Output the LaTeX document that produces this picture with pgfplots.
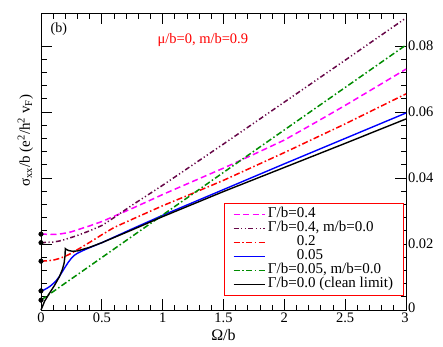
\documentclass[border=0pt]{standalone}
\usepackage{fontspec}
\setmainfont{Liberation Serif}
\usepackage{pgfplots}
\pgfplotsset{compat=1.18}
\definecolor{cmag}{RGB}{255,0,255}
\definecolor{cpur}{RGB}{103,7,72}
\definecolor{cred}{RGB}{255,0,0}
\definecolor{cblu}{RGB}{0,0,255}
\definecolor{cgrn}{RGB}{0,140,0}
\begin{document}
\begin{tikzpicture}
\begin{axis}[
  scale only axis, width=365pt, height=297pt,
  xmin=0, xmax=3, ymin=0, ymax=0.09,
  clip=false,
  axis line style={line width=0.9pt},
  every tick/.style={line width=0.8pt, black},
  major tick length=11pt, minor tick length=5.5pt,
  xtick={0,0.5,1,1.5,2,2.5,3},
  xticklabels={0,0.5,1,1.5,2,2.5,{\hspace*{-2pt}3}},
  minor x tick num=4,
  ytick={0,0.02,0.04,0.06,0.08},
  yticklabels={\raisebox{4pt}{0},0.02,0.04,0.06,0.08},
  minor y tick num=4,
  scaled y ticks=false,
  yticklabel pos=right,
  ytick pos=both, xtick pos=both,
  ticklabel style={font=\fontsize{14.5}{17}\selectfont},
  xticklabel style={yshift=1pt},
  yticklabel style={xshift=-1.5pt},
  xlabel={Ω/b},
  every axis x label/.style={at={(axis description cs:0.5,0)}, anchor=north, yshift=-16pt, font=\fontsize{16}{18}\selectfont},
  ylabel={σ\textsubscript{xx}/b (e\textsuperscript{2}/h\textsuperscript{2} v\textsubscript{F})},
  every axis y label/.style={at={(axis description cs:-0.012,0.57)}, rotate=90, anchor=south, font=\fontsize{15}{16}\selectfont},
  legend cell align=left,
  legend image code/.code={\draw[#1, line width=1.8pt] (0pt,0pt) -- (31pt,0pt);},
  legend style={at={(rel axis cs:0.9945,0.047)}, anchor=south east, draw=cred, line width=1pt, fill=white,
    font=\fontsize{15}{14}\selectfont, inner xsep=8pt, inner ysep=4pt, row sep=0pt,
    nodes={inner sep=2.5pt, text height=7.5pt, text depth=1.5pt}},
]
\addplot[cmag, line width=1.5pt, dash pattern=on 6pt off 3.5pt] coordinates {
(0,0.0230)(0.05,0.02295)(0.1,0.0229)(0.15,0.0230)(0.2,0.0233)(0.25,0.0237)(0.3,0.0243)(0.35,0.0249)(0.4,0.0255)(0.5,0.0268)(0.6,0.0284)(0.75,0.0308)(0.9,0.0333)(1.0,0.0350)(1.25,0.0390)(1.5,0.0430)(1.75,0.0472)(2.0,0.0515)(2.25,0.0567)(2.5,0.0620)(2.75,0.0675)(3.0,0.0730)};
\addlegendentry{Γ/b=0.4}
\addplot[cpur, line width=1.5pt, dash pattern=on 5pt off 2.5pt on 1.2pt off 2.5pt on 1.2pt off 2.5pt] coordinates {
(0,0.0204)(0.05,0.0205)(0.1,0.0206)(0.15,0.0209)(0.2,0.0214)(0.25,0.0220)(0.3,0.0226)(0.35,0.0233)(0.4,0.0240)(0.5,0.0256)(0.6,0.0280)(0.75,0.0318)(1.0,0.0378)(1.5,0.0503)(2.0,0.0630)(2.5,0.0757)(3.0,0.0885)};
\addlegendentry{Γ/b=0.4, m/b=0.0}
\addplot[cred, line width=1.5pt, dash pattern=on 6pt off 2.5pt on 1.5pt off 2.5pt] coordinates {
(0,0.0148)(0.05,0.0149)(0.1,0.0151)(0.15,0.0156)(0.2,0.0163)(0.25,0.0172)(0.3,0.0183)(0.4,0.0205)(0.5,0.0228)(0.6,0.0250)(0.75,0.0275)(1.0,0.0316)(1.25,0.0354)(1.5,0.0393)(2.0,0.0477)(2.5,0.0564)(3.0,0.0655)};
\addlegendentry{\hphantom{Γ/b=}0.2}
\addplot[cblu, line width=1.4pt] coordinates {
(0,0.0058)(0.025,0.0061)(0.05,0.0066)(0.075,0.0072)(0.1,0.0080)(0.125,0.0089)(0.15,0.0101)(0.175,0.0116)(0.2,0.0131)(0.225,0.0145)(0.25,0.0157)(0.275,0.0166)(0.3,0.0172)(0.35,0.0181)(0.4,0.0189)(0.5,0.0204)(0.75,0.0246)(1.0,0.0287)(1.5,0.0365)(2.0,0.0443)(2.5,0.0520)(3.0,0.0597)};
\addlegendentry{\hphantom{Γ/b=}0.05}
\addplot[cgrn, line width=1.5pt, dash pattern=on 6pt off 2.5pt on 1.5pt off 2.5pt] coordinates {
(0,0.0030)(1.5,0.0417)(3,0.0803)};
\addlegendentry{Γ/b=0.05, m/b=0.0}
\addplot[black, line width=1.4pt] coordinates {
(0,0)(0.03,0.0027)(0.07,0.0051)(0.11,0.0074)(0.15,0.0100)(0.175,0.0122)(0.19,0.0142)(0.197,0.0163)(0.2,0.0186)(0.21,0.0183)(0.23,0.0180)(0.26,0.0178)(0.3,0.0179)(0.4,0.0190)(0.5,0.0204)(0.75,0.0243)(1.0,0.0283)(1.5,0.0359)(2.0,0.0432)(2.5,0.0505)(3.0,0.0579)};
\addlegendentry{Γ/b=0.0 (clean limit)}
\addplot[only marks, mark=*, mark size=2.3pt, black, forget plot] coordinates {
(0,0.0230)(0,0.0204)(0,0.0148)(0,0.0058)(0,0.0030)};
\node[text=cred, font=\fontsize{14.5}{17}\selectfont] at (axis cs:1.33,0.0818) {μ/b=0, m/b=0.9};
\node[font=\fontsize{14}{16}\selectfont] at (rel axis cs:0.049,0.946) {(b)};
\end{axis}
\path (current axis.south west) ++(-41pt,-36pt) rectangle ++(443pt,346pt);
\end{tikzpicture}
\end{document}
